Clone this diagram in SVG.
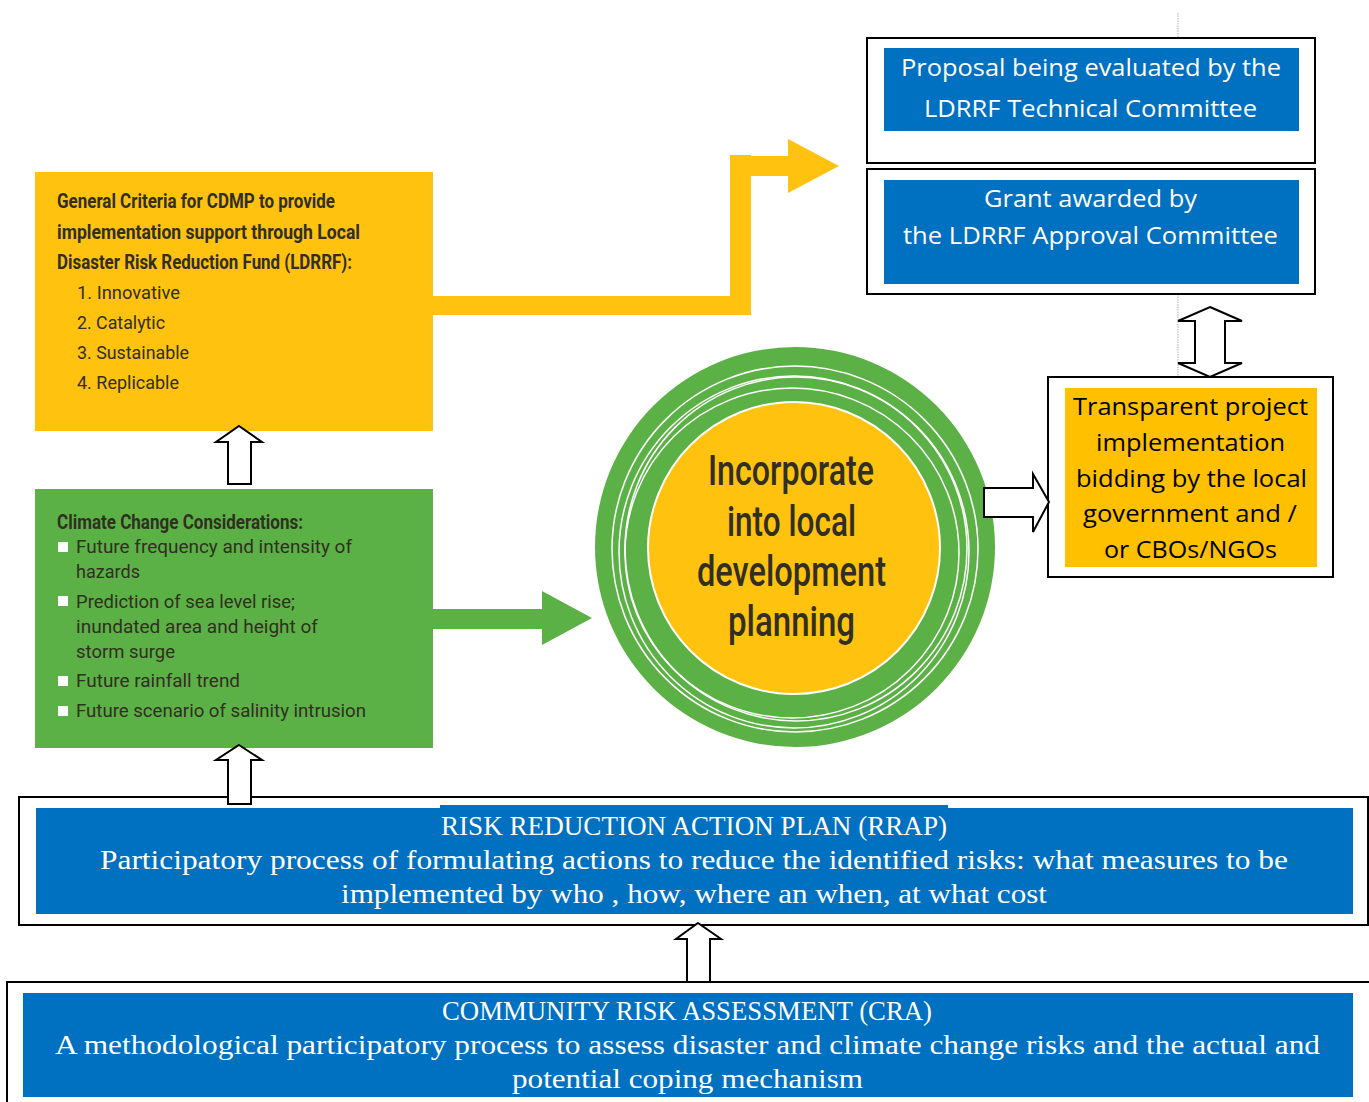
<svg xmlns="http://www.w3.org/2000/svg" width="1369" height="1102" viewBox="0 0 1369 1102">
<style>
.frame{fill:#fff;stroke:#000;stroke-width:2}
.blue{fill:#0070C0}
.sans{font-family:"Open Sans","Noto Sans",sans-serif;font-size:24px;fill:#fff;text-anchor:middle}
.dark{fill:#000}
.ser{font-family:"Liberation Serif",serif;font-size:27px;fill:#fff;text-anchor:middle}
.cond{font-family:Roboto,"Liberation Sans",sans-serif;fill:#312e22}
.ttl{font-size:21px;font-weight:700}
.itm{font-size:19px}
.arr{fill:#fff;stroke:#000;stroke-width:2;stroke-linejoin:miter}
.ring{fill:none;stroke:#fff;stroke-width:1.5}
</style>
<rect width="1369" height="1102" fill="#fff"/>
<line x1="1178" y1="13" x2="1178" y2="38" stroke="#bdbdbd" stroke-width="1.2" stroke-dasharray="1.5,1"/>
<line x1="1178" y1="294" x2="1178" y2="377" stroke="#bdbdbd" stroke-width="1.2" stroke-dasharray="1.5,1"/>

<g id="node-criteria">
<rect x="35" y="172" width="398" height="259" fill="#FEC20F"/>
<g class="cond">
<text class="ttl" x="57" y="208" textLength="278" lengthAdjust="spacingAndGlyphs">General Criteria for CDMP to provide</text>
<text class="ttl" x="57" y="239" textLength="303" lengthAdjust="spacingAndGlyphs">implementation support through Local</text>
<text class="ttl" x="57" y="269" textLength="295" lengthAdjust="spacingAndGlyphs">Disaster Risk Reduction Fund (LDRRF):</text>
<text class="itm" x="77" y="299" textLength="103" lengthAdjust="spacingAndGlyphs">1. Innovative</text>
<text class="itm" x="77" y="329" textLength="88" lengthAdjust="spacingAndGlyphs">2. Catalytic</text>
<text class="itm" x="77" y="359" textLength="112" lengthAdjust="spacingAndGlyphs">3. Sustainable</text>
<text class="itm" x="77" y="389" textLength="102" lengthAdjust="spacingAndGlyphs">4. Replicable</text>
</g>
</g>

<g id="node-climate">
<rect x="35" y="489" width="398" height="259" fill="#5CB146"/>
<g fill="#fff">
<rect x="58" y="542" width="10" height="10"/>
<rect x="58" y="596" width="10" height="10"/>
<rect x="58" y="676" width="10" height="10"/>
<rect x="58" y="706" width="10" height="10"/>
</g>
<g class="cond">
<text class="ttl" x="57" y="529" textLength="246" lengthAdjust="spacingAndGlyphs">Climate Change Considerations:</text>
<text class="itm" x="76" y="553" textLength="276" lengthAdjust="spacingAndGlyphs">Future frequency and intensity of</text>
<text class="itm" x="76" y="578" textLength="64" lengthAdjust="spacingAndGlyphs">hazards</text>
<text class="itm" x="76" y="608" textLength="219" lengthAdjust="spacingAndGlyphs">Prediction of sea level rise;</text>
<text class="itm" x="76" y="633" textLength="242" lengthAdjust="spacingAndGlyphs">inundated area and height of</text>
<text class="itm" x="76" y="658" textLength="99" lengthAdjust="spacingAndGlyphs">storm surge</text>
<text class="itm" x="76" y="687" textLength="164" lengthAdjust="spacingAndGlyphs">Future rainfall trend</text>
<text class="itm" x="76" y="717" textLength="290" lengthAdjust="spacingAndGlyphs">Future scenario of salinity intrusion</text>
</g>
</g>

<g id="node-incorporate">
<circle cx="795" cy="547" r="200" fill="#5CB146"/>
<circle class="ring" cx="795" cy="549" r="183"/>
<ellipse class="ring" cx="794" cy="552" rx="175" ry="176"/>
<ellipse class="ring" cx="796" cy="549" rx="171" ry="172"/>
<ellipse class="ring" cx="792" cy="553" rx="167" ry="165"/>
<circle cx="794" cy="548" r="146" fill="#FEC20F" stroke="#fff" stroke-width="2"/>
<g class="cond" font-size="42" font-weight="500" text-anchor="middle" fill="#231f20">
<text x="791" y="485" textLength="166" lengthAdjust="spacingAndGlyphs">Incorporate</text>
<text x="791.5" y="536" textLength="129" lengthAdjust="spacingAndGlyphs">into local</text>
<text x="791.5" y="586" textLength="189" lengthAdjust="spacingAndGlyphs">development</text>
<text x="791.5" y="636" textLength="127" lengthAdjust="spacingAndGlyphs">planning</text>
</g>
</g>

<g id="node-proposal">
<rect class="frame" x="867" y="38" width="448" height="125"/>
<rect class="blue" x="884" y="48" width="415" height="83"/>
<text class="sans" x="1091" y="76" textLength="380" lengthAdjust="spacingAndGlyphs">Proposal being evaluated by the</text>
<text class="sans" x="1090.5" y="117" textLength="333" lengthAdjust="spacingAndGlyphs">LDRRF Technical Committee</text>
</g>

<g id="node-grant">
<rect class="frame" x="867" y="169" width="448" height="125"/>
<rect class="blue" x="884" y="180" width="415" height="104"/>
<text class="sans" x="1090.5" y="207" textLength="213" lengthAdjust="spacingAndGlyphs">Grant awarded by</text>
<text class="sans" x="1090.5" y="244" textLength="375" lengthAdjust="spacingAndGlyphs">the LDRRF Approval Committee</text>
</g>

<g id="node-transparent">
<rect class="frame" x="1048" y="377" width="285" height="200"/>
<rect x="1065" y="388" width="252" height="179" fill="#FFC000"/>
<g class="sans dark">
<text x="1190.5" y="415" textLength="235" lengthAdjust="spacingAndGlyphs">Transparent project</text>
<text x="1190.5" y="451" textLength="189" lengthAdjust="spacingAndGlyphs">implementation</text>
<text x="1191.5" y="487" textLength="231" lengthAdjust="spacingAndGlyphs">bidding by the local</text>
<text x="1190" y="522" textLength="214" lengthAdjust="spacingAndGlyphs">government and /</text>
<text x="1190.5" y="558" textLength="173" lengthAdjust="spacingAndGlyphs">or CBOs/NGOs</text>
</g>
</g>

<g id="node-rrap">
<rect class="frame" x="19" y="797" width="1349" height="128"/>
<rect class="blue" x="36" y="808" width="1317" height="106"/>
<rect class="blue" x="440" y="805" width="508" height="4"/>
<text class="ser" x="694" y="835" textLength="506" lengthAdjust="spacingAndGlyphs">RISK REDUCTION ACTION PLAN (RRAP)</text>
<text class="ser" x="694" y="869" textLength="1188" lengthAdjust="spacingAndGlyphs">Participatory process of formulating actions to reduce the identified risks: what measures to be</text>
<text class="ser" x="694" y="903" textLength="706" lengthAdjust="spacingAndGlyphs">implemented by who , how, where an when, at what cost</text>
</g>

<g id="node-cra">
<rect class="frame" x="7" y="982" width="1370" height="130"/>
<rect class="blue" x="23" y="993" width="1330" height="104"/>
<text class="ser" x="687" y="1020" textLength="490" lengthAdjust="spacingAndGlyphs">COMMUNITY RISK ASSESSMENT (CRA)</text>
<text class="ser" x="687.5" y="1054" textLength="1265" lengthAdjust="spacingAndGlyphs">A methodological participatory process to assess disaster and climate change risks and the actual and</text>
<text class="ser" x="687.5" y="1088" textLength="351" lengthAdjust="spacingAndGlyphs">potential coping mechanism</text>
</g>

<g id="connectors">
<polygon fill="#FEC20F" points="432,296 730,296 730,155 751,155 751,156 788,156 788,139 839,166 788,193 788,176 751,176 751,315 432,315"/>
<polygon fill="#5CB146" points="432,609 542,609 542,591 592,618 542,645 542,629 432,629"/>
<polygon class="arr" points="239,426 262,442 251,442 251,484 228,484 228,442 216,442"/>
<polygon class="arr" points="239,745 262,760 251,760 251,804 228,804 228,760 216,760"/>
<polygon class="arr" points="698,923 721,939 710,939 710,982 687,982 687,939 676,939"/>
<polygon class="arr" points="984,488 1033,488 1033,474 1049,502 1033,532 1033,517 984,517"/>
<polygon class="arr" points="1210,307 1242,321 1225,321 1225,363 1242,363 1210,377 1178,363 1195,363 1195,321 1178,321"/>
</g>
</svg>
